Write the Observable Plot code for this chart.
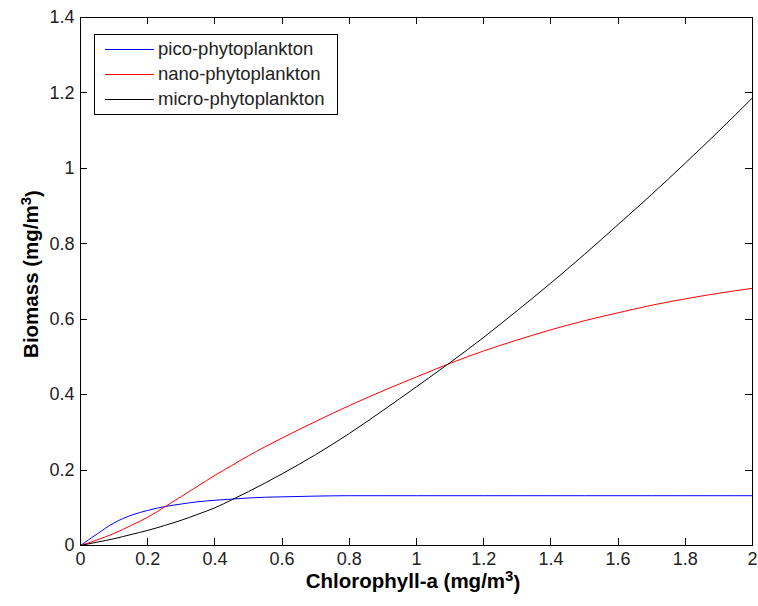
<!DOCTYPE html>
<html><head><meta charset="utf-8">
<script src="https://cdn.jsdelivr.net/npm/d3@7"></script>
<script src="https://cdn.jsdelivr.net/npm/@observablehq/plot@0.6"></script>
<style>body{margin:0;background:#fff}</style>
</head><body><div id="chart"></div>
<script>
// Chlorophyll-a concentration (mg/m3)
const chl = [0,0.05,0.1,0.15,0.2,0.25,0.3,0.35,0.4,0.45,0.5,0.55,0.6,0.7,0.8,0.9,1.0,1.1,1.2,1.3,1.4,1.5,1.6,1.7,1.8,1.9,2.0];
// Biomass (mg/m3) per size class
const pico  = [0,0.031,0.060,0.080,0.093,0.103,0.110,0.116,0.120,0.123,0.126,0.128,0.129,0.131,0.132,0.132,0.132,0.132,0.132,0.132,0.132,0.132,0.132,0.132,0.132,0.132,0.132];
const nano  = [0,0.015,0.032,0.053,0.075,0.102,0.130,0.158,0.186,0.212,0.238,0.262,0.285,0.329,0.371,0.410,0.447,0.483,0.516,0.545,0.572,0.596,0.617,0.637,0.654,0.669,0.682];
const micro = [0,0.009,0.018,0.029,0.040,0.053,0.067,0.083,0.100,0.121,0.143,0.166,0.190,0.241,0.297,0.358,0.421,0.485,0.552,0.623,0.696,0.772,0.851,0.931,1.014,1.099,1.187];
const seriesNames = ["pico-phytoplankton","nano-phytoplankton","micro-phytoplankton"];
const seriesColors = ["#0000ff","#ff0000","#000000"];
const xTicks = [0,0.2,0.4,0.6,0.8,1,1.2,1.4,1.6,1.8,2];
const yTicks = [0,0.2,0.4,0.6,0.8,1,1.2,1.4];
const xTitle = ["Chlorophyll-a (mg/m", "3", ")"];
const yTitle = ["Biomass (mg/m", "3", ")"];

const rows = [pico, nano, micro].flatMap((vals, i) =>
  vals.map((v, j) => ({chl: chl[j], value: v, series: seriesNames[i]})));

const W = 758, H = 606, mL = 80, mR = 6, mT = 17, mB = 61;
const iw = W - mL - mR, ih = H - mT - mB;
const xMax = 2, yMax = 1.4, tick = 7;
const tx = xMax * tick / iw, ty = yMax * tick / ih; // tick length in data units
const fmt = d => String(+d.toFixed(1));
const font = "'Liberation Sans', Arial, Helvetica, sans-serif";
const tickStyle = {stroke: "#000", strokeWidth: 1, shapeRendering: "crispEdges"};

const chart = Plot.plot({
  width: W, height: H,
  marginLeft: mL, marginRight: mR, marginTop: mT, marginBottom: mB,
  style: {fontFamily: font, background: "#fff", color: "#000"},
  x: {domain: [0, xMax]},
  y: {domain: [0, yMax]},
  color: {domain: seriesNames, range: seriesColors},
  marks: [
    Plot.line(rows, {x: "chl", y: "value", z: "series", stroke: "series", strokeWidth: 1, curve: "monotone-x"}),
    Plot.ruleX(xTicks, {x: d => d, y1: 0, y2: ty, ...tickStyle}),
    Plot.ruleX(xTicks, {x: d => d, y1: yMax - ty, y2: yMax, ...tickStyle}),
    Plot.ruleY(yTicks, {y: d => d, x1: 0, x2: tx, ...tickStyle}),
    Plot.ruleY(yTicks, {y: d => d, x1: xMax - tx, x2: xMax, ...tickStyle}),
    Plot.frame({stroke: "#000", shapeRendering: "crispEdges"}),
    Plot.axisX({ticks: xTicks, tickSize: 0, tickPadding: 7, tickFormat: fmt, fontSize: 18, label: null, fill: "#222"}),
    Plot.axisY({ticks: yTicks, tickSize: 0, tickPadding: 6, tickFormat: fmt, fontSize: 18, label: null, fill: "#222"})
  ]
});
document.getElementById("chart").appendChild(chart);

const svg = d3.select(chart);
function title(g, parts) {
  const t = g.append("text").attr("text-anchor", "middle")
    .attr("font-family", font).attr("font-weight", "bold").attr("font-size", 20.5).attr("fill", "#000");
  t.append("tspan").text(parts[0]);
  t.append("tspan").attr("dy", "-0.45em").attr("font-size", 15).text(parts[1]);
  t.append("tspan").attr("dy", "0.45em").text(parts[2]);
}
title(svg.append("g").attr("transform", "translate(413,588)"), xTitle);
title(svg.append("g").attr("transform", "translate(38,274) rotate(-90)"), yTitle);

// legend
const lg = svg.append("g");
lg.append("rect").attr("x", 94.5).attr("y", 34.5).attr("width", 243).attr("height", 80)
  .attr("fill", "#fff").attr("stroke", "#000").attr("shape-rendering", "crispEdges");
seriesNames.forEach((name, i) => {
  const y = 49 + i * 25;
  lg.append("line").attr("x1", 105).attr("x2", 154).attr("y1", y + 0.5).attr("y2", y + 0.5)
    .attr("stroke", seriesColors[i]).attr("stroke-width", 1).attr("shape-rendering", "crispEdges");
  lg.append("text").attr("x", 158).attr("y", y + 6).attr("text-anchor", "start")
    .attr("font-family", font).attr("font-size", 18.5).attr("fill", "#222").text(name);
});
</script>
</body></html>
